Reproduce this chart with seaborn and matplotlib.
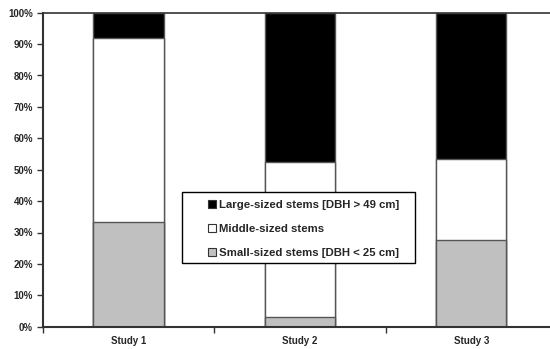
import matplotlib
matplotlib.use("Agg")
import matplotlib.pyplot as plt
import seaborn as sns
import pandas as pd
import numpy as np
from matplotlib.patches import Patch, Rectangle

studies = ["Study 1", "Study 2", "Study 3"]
small = [33.3, 3.0, 27.5]
middle = [58.5, 49.5, 25.8]
large = [8.2, 47.5, 46.7]
labels = ["Large-sized stems [DBH > 49 cm]", "Middle-sized stems", "Small-sized stems [DBH < 25 cm]"]
colors = {"large": "#000000", "middle": "#ffffff", "small": "#c0c0c0"}

sns.set_style("white")
plt.rcParams['font.family'] = ['Liberation Sans', 'DejaVu Sans']
plt.rcParams['font.weight'] = 'bold'

df = pd.DataFrame({"study": studies, "small": small, "middle": middle, "large": large})
df["cum_small"] = df["small"]
df["cum_middle"] = df["small"] + df["middle"]
df["cum_large"] = df["cum_middle"] + df["large"]

fig = plt.figure(figsize=(5.5, 3.49), dpi=100)
W, H = 550, 349
left_px, right_px, top_px, bot_px = 42.7, 557, 12.7, 326.7
ax = fig.add_axes([left_px / W, 1 - bot_px / H, (right_px - left_px) / W, (bot_px - top_px) / H])

edge = "#555555"
for col, c in [("cum_large", colors["large"]), ("cum_middle", colors["middle"]), ("cum_small", colors["small"])]:
    sns.barplot(data=df, x="study", y=col, color=c, width=0.41, edgecolor=edge,
                linewidth=1.0, saturation=1, ax=ax, errorbar=None)

ax.set_xlim(-0.5, 2.5)
ax.set_ylim(0, 100)
ax.set_xlabel("")
ax.set_ylabel("")

yt = np.arange(0, 101, 10)
ax.set_yticks(yt)
ax.set_yticklabels([f"{v}%" for v in yt], fontsize=7, fontweight='bold')
ax.set_xticks([-0.5, 0.5, 1.5, 2.5])
ax.set_xticklabels([])
ax.set_xticks([0, 1, 2], minor=True)
ax.set_xticklabels(studies, minor=True, fontsize=7, fontweight='bold')
ax.tick_params(axis='x', which='major', direction='out', length=4, width=1, color='#333333', bottom=True)
ax.tick_params(axis='x', which='minor', length=0, pad=7)
ax.tick_params(axis='y', direction='out', length=4, width=1, color='#333333', left=True, pad=3)

for s in ["left", "bottom"]:
    ax.spines[s].set_color("#333333")
    ax.spines[s].set_linewidth(1.5)
ax.spines["top"].set_color("#333333")
ax.spines["top"].set_linewidth(1.2)
ax.spines["right"].set_visible(False)

# legend box
lx0, ly0, lx1, ly1 = 181.7, 191.7, 415, 263
box = Rectangle((lx0 / W, 1 - ly1 / H), (lx1 - lx0) / W, (ly1 - ly0) / H,
                transform=fig.transFigure, facecolor="white", edgecolor="#000000",
                linewidth=1.0, zorder=5)
fig.patches.append(box)

handles = [Patch(facecolor=colors["large"], edgecolor="#333333", linewidth=0.8),
           Patch(facecolor=colors["middle"], edgecolor="#333333", linewidth=0.8),
           Patch(facecolor=colors["small"], edgecolor="#333333", linewidth=0.8)]
leg = fig.legend(handles, labels, loc="upper left",
                 bbox_to_anchor=(208 / W, 1 - 199.5 / H),
                 frameon=False,
                 prop={'family': ['Liberation Sans'], 'weight': 'bold', 'size': 8.2},
                 handlelength=0.7, handleheight=0.7, handletextpad=0.3,
                 labelspacing=1.25, borderpad=0, borderaxespad=0)
leg.set_zorder(6)

fig.savefig("out.png", dpi=100)
